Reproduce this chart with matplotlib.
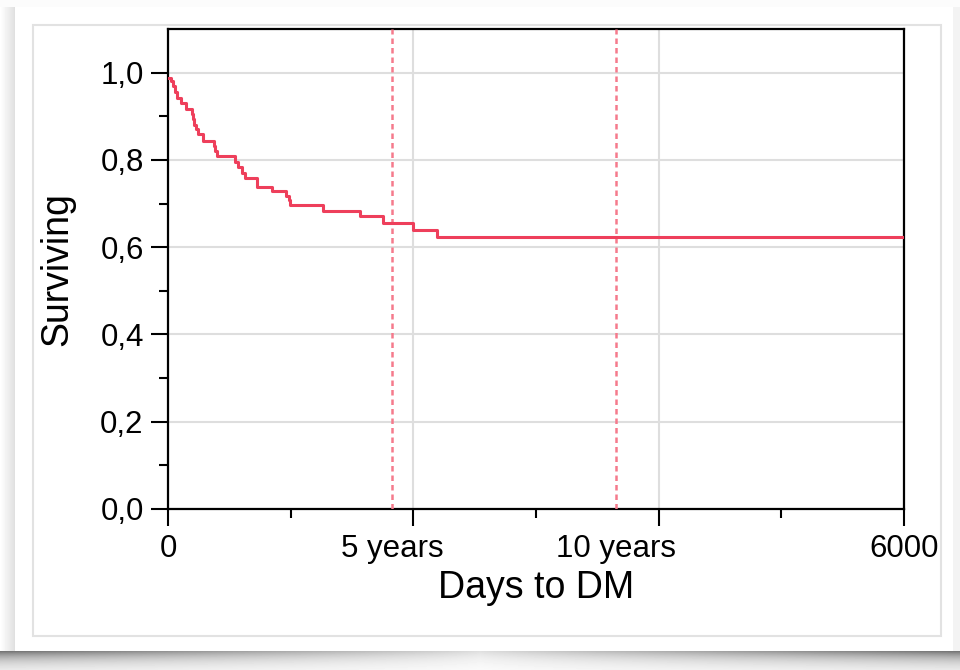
import matplotlib

matplotlib.use("Agg")
import matplotlib.pyplot as plt
import numpy as np
from matplotlib.patches import Rectangle
from matplotlib.ticker import FixedLocator


# Kaplan-Meier steps: event day and survival fraction after the event
event_days = [0, 25, 40, 55, 70, 105, 150, 195, 205, 215, 230, 245, 283,
              375, 385, 400, 546, 570, 600, 628, 723, 728, 845, 962, 985,
              995, 1266, 1565, 1750, 2000, 2190]
survival = [0.988, 0.980, 0.970, 0.955, 0.942, 0.930, 0.917, 0.905, 0.893,
            0.880, 0.870, 0.860, 0.843, 0.831, 0.820, 0.808, 0.795, 0.783,
            0.771, 0.759, 0.749, 0.738, 0.728, 0.717, 0.707, 0.696, 0.684,
            0.671, 0.655, 0.640, 0.623]
follow_up_end = 6000

# reference lines at 5 and 10 years (days)
year_marks = [1826, 3652]
x_labels = ["0", "5 years", "10 years", "6000"]
x_label_pos = [0, 1826, 3652, 6000]
y_ticks = [0.0, 0.2, 0.4, 0.6, 0.8, 1.0]
y_labels = ["0,0", "0,2", "0,4", "0,6", "0,8", "1,0"]

LINE_COLOR = "#ee3f5b"
MARK_COLOR = "#f57a8c"
GRID_COLOR = "#dedede"

W, H = 960, 670
plt.rcParams["font.family"] = ["Liberation Sans", "DejaVu Sans"]

fig = plt.figure(figsize=(W / 100, H / 100), dpi=100)

# card background with soft drop shadow
bg = np.ones((H, W))
xs = np.arange(W)
ys = np.arange(H)
card_l, card_r, card_t, card_b = 15, 953, 7, 651
left_fade = np.clip(xs[:card_l] / card_l, 0, 1)
bg[:, :card_l] = 1 - 0.13 * left_fade[None, :]
bg[:, card_r:] = 0.95
depth = 0.12 + 0.42 * (np.abs(xs - W / 2) / (W / 2)) ** 0.8
yb = ys[card_b:] - card_b
bg[card_b:, :] = 1 - depth[None, :] * np.exp(-yb / 10.0)[:, None]
bg[:card_t, :] = 0.985
bg[card_t:card_b, card_l:card_r] = 1.0

bg_ax = fig.add_axes([0, 0, 1, 1], zorder=0)
bg_ax.imshow(bg, cmap="gray", vmin=0, vmax=1, extent=(0, W, H, 0),
             interpolation="bilinear", aspect="auto")
bg_ax.add_patch(Rectangle((33, 25), 908, 611, fill=False,
                          edgecolor="#e2e2e2", linewidth=1.5))
bg_ax.set_xlim(0, W)
bg_ax.set_ylim(H, 0)
bg_ax.axis("off")

ax = fig.add_axes([168 / W, 1 - 509 / H, 736 / W, 480 / H], zorder=1)
ax.set_facecolor("white")

days = event_days + [follow_up_end]
surv = survival + [survival[-1]]
ax.step(days, surv, where="post", color=LINE_COLOR, linewidth=2.2, zorder=4)

for day in year_marks:
    ax.axvline(day, color=MARK_COLOR, linewidth=1.8,
               linestyle=(0, (2.2, 1.6)), zorder=3)

ax.set_xlim(0, follow_up_end)
ax.set_ylim(0, 1.1)

ax.xaxis.set_major_locator(FixedLocator([0, 2000, 4000, 6000]))
ax.xaxis.set_minor_locator(FixedLocator([1000, 3000, 5000]))
ax.yaxis.set_major_locator(FixedLocator(y_ticks))
ax.yaxis.set_minor_locator(FixedLocator([0.1, 0.3, 0.5, 0.7, 0.9]))
ax.set_yticklabels(y_labels)
ax.tick_params(axis="x", which="both", labelbottom=False)
ax.tick_params(which="major", length=12.5, width=1.5, color="black",
               labelsize=22.5, pad=5)
ax.tick_params(which="minor", length=6.5, width=1.5, color="black")

ax.grid(True, which="major", color=GRID_COLOR, linewidth=1.5, zorder=0)
ax.set_axisbelow(True)
for spine in ax.spines.values():
    spine.set_linewidth(1.6)
    spine.set_color("black")

# year labels sit under the 5/10 year lines, not under the major ticks
sec = ax.secondary_xaxis("bottom")
sec.set_xticks(x_label_pos)
sec.set_xticklabels(x_labels)
sec.tick_params(length=0, labelsize=22.5, pad=18)
sec.spines["bottom"].set_visible(False)

ax.set_ylabel("Surviving", fontsize=27, labelpad=18)
sec.set_xlabel("Days to DM", fontsize=27, labelpad=4)

fig.savefig("out.png", dpi=100, facecolor="white")
